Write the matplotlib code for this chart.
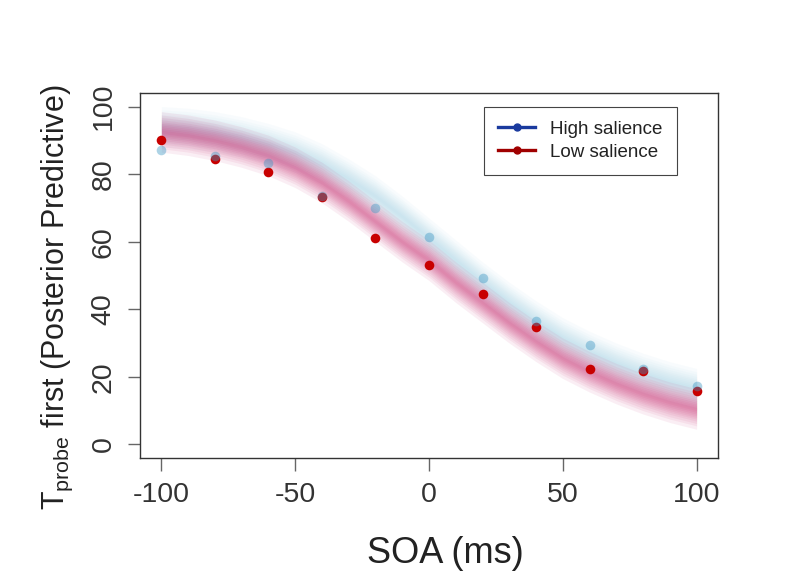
import matplotlib
matplotlib.use('Agg')
import matplotlib.pyplot as plt
from matplotlib.lines import Line2D

plt.rcParams['font.family'] = ['Liberation Sans', 'DejaVu Sans']
plt.rcParams['mathtext.fontset'] = 'custom'
plt.rcParams['mathtext.rm'] = 'Liberation Sans'
plt.rcParams['mathtext.it'] = 'Liberation Sans:italic'
plt.rcParams['mathtext.bf'] = 'Liberation Sans:bold'
plt.rcParams['axes.unicode_minus'] = False

# ---------------- data ----------------
soa = [-100, -80, -60, -40, -20, 0, 20, 40, 60, 80, 100]
high_obs = [87.2, 85.3, 83.4, 73.4, 70.0, 61.4, 49.3, 36.4, 29.4, 22.3, 17.4]
low_obs = [90.2, 84.6, 80.7, 73.3, 61.1, 53.1, 44.5, 34.8, 22.3, 21.7, 15.8]

# posterior predictive band centres, read at 10 ms steps
grid = [-100, -90, -80, -70, -60, -50, -40, -30, -20, -10, 0,
        10, 20, 30, 40, 50, 60, 70, 80, 90, 100]
low_band = [92.5, 91.5, 90.0, 88.0, 85.5, 82.0, 77.5, 72.0, 66.0, 60.0, 54.5,
            48.0, 42.0, 36.0, 30.5, 25.5, 21.5, 18.0, 15.0, 12.5, 10.5]
high_band = [94.0, 93.5, 92.5, 91.0, 89.0, 86.5, 83.0, 78.5, 73.5, 67.5, 61.0,
             54.5, 48.0, 42.0, 36.5, 31.5, 27.5, 24.0, 21.0, 18.5, 16.5]
band_halfwidths = [0.5, 1.0, 1.5, 2.0, 2.5, 3.0, 3.6, 4.3, 5.0, 6.0]

labels = ['High salience', 'Low salience']
xticks = [-100, -50, 0, 50, 100]
yticks = [0, 20, 40, 60, 80, 100]

# ---------------- figure ----------------
fig = plt.figure(figsize=(7.9, 5.87), dpi=100)
ax = fig.add_axes([140 / 790, 1 - 458 / 587, 578 / 790, 365 / 587])

for hw in band_halfwidths:
    ax.fill_between(grid, [v - hw for v in high_band], [v + hw for v in high_band],
                    color='#a5d3e6', alpha=0.07, lw=0)
for hw in band_halfwidths:
    ax.fill_between(grid, [v - hw for v in low_band], [v + hw for v in low_band],
                    color='#c8286e', alpha=0.075, lw=0)

ax.scatter(soa, low_obs, s=48, color='#c80000', lw=0, zorder=3)
ax.scatter(soa, high_obs, s=48, color='#3c96c3', alpha=0.42, lw=0, zorder=4)

ax.set_xlim(-108, 108)
ax.set_ylim(-4, 104)
ax.set_xticks(xticks)
ax.set_yticks(yticks)
ax.set_xticklabels([str(t) for t in xticks])
ax.set_yticklabels([str(t) for t in yticks])
ax.tick_params(axis='both', direction='out', length=9, width=1, color='#666666',
               labelsize=20.5, labelcolor='#333333', pad=8)
ax.tick_params(axis='y', labelrotation=90)
for lab in ax.get_yticklabels():
    lab.set_va('center')

for sp in ax.spines.values():
    sp.set_color('#333333')
    sp.set_linewidth(1)

ax.set_xlabel('SOA (ms)', fontsize=26, color='#222222')
ax.xaxis.set_label_coords(0.528, -0.213)
ax.set_ylabel(r'T$_{\mathrm{probe}}$ first (Posterior Predictive)', fontsize=22, color='#222222')
ax.yaxis.set_label_coords(-0.112, 0.44)

handles = [Line2D([0], [0], color='#1a3a9e', lw=2.4, marker='o', ms=5),
           Line2D([0], [0], color='#a00000', lw=2.4, marker='o', ms=5)]
leg = ax.legend(handles, labels, loc='upper left', bbox_to_anchor=(0.595, 0.962),
                borderaxespad=0, frameon=True, fancybox=False, edgecolor='#444444',
                fontsize=13.5, handlelength=2.0, handletextpad=0.8, borderpad=0.75,
                labelspacing=0.3, framealpha=1)
leg.get_frame().set_linewidth(0.8)
for t in leg.get_texts():
    t.set_color('#222222')

fig.savefig('out.png', dpi=100)
